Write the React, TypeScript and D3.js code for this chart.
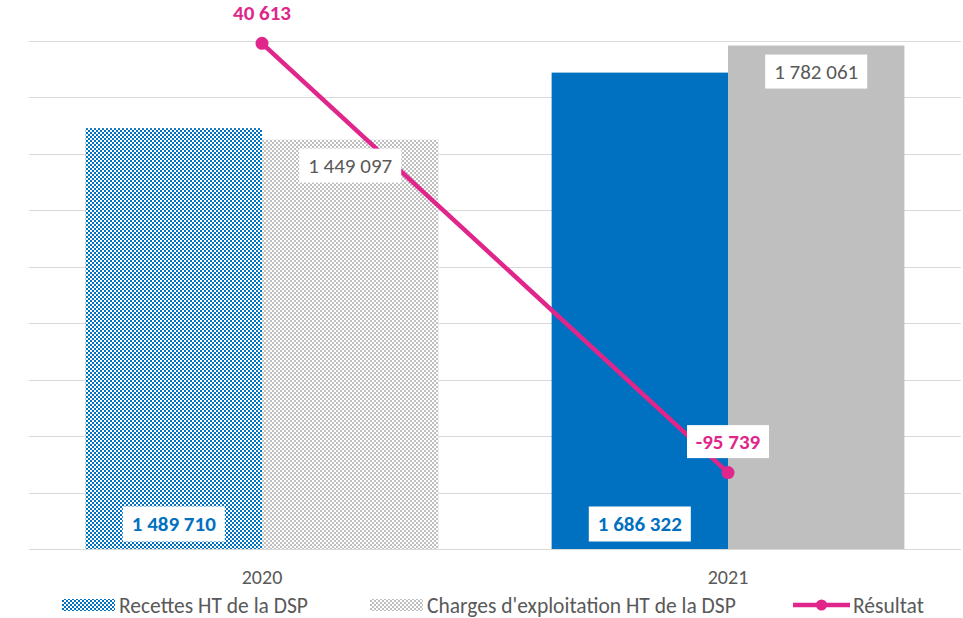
import * as d3 from 'd3';

const years = ['2020', '2021'];
const recettes = [1489710, 1686322];
const charges = [1449097, 1782061];
const resultat = [40613, -95739];
const seriesNames = ['Recettes HT de la DSP', "Charges d'exploitation HT de la DSP", 'Résultat'];
const yTicks = [0, 200000, 400000, 600000, 800000, 1000000, 1200000, 1400000, 1600000, 1800000];

const W = 963;
const H = 618;
const BLUE = '#0070C0';
const GRAY = '#BFBFBF';
const PINK = '#E0268A';
const TXT = '#595959';
const FONT = 'Carlito, Lato, sans-serif';

const fmt = (v: number) => d3.format(',')(v).replace(/,/g, ' ').replace('−', '-');

export default function App() {
  const x = d3.scaleBand<string>().domain(years).range([29, 961]).paddingInner(0.243).paddingOuter(0.1215);
  const xSub = d3.scaleBand<string>().domain(['r', 'c']).range([0, x.bandwidth()]);
  const y = d3.scaleLinear().domain([0, 1800000]).range([549, 40.5]);
  const y2 = d3.scaleLinear().domain([-120000, 41500]).range([549, 40.5]);
  const cx = (yr: string) => (x(yr) as number) + x.bandwidth() / 2;

  const line = d3.line<number>()
    .x((_, i) => cx(years[i]))
    .y(d => y2(d));

  const labelBox = (xc: number, yc: number, w: number, h: number, text: string, color: string, bold: boolean, key: string, box = true) => (
    <g key={key}>
      {box && <rect x={xc - w / 2} y={yc - h / 2} width={w} height={h} fill="#fff" />}
      <text x={xc} y={yc} dy="0.35em" textAnchor="middle" fill={color} fontWeight={bold ? 700 : 400} fontSize={21} fontFamily={FONT}>{text}</text>
    </g>
  );

  return (
    <div>
      <style>{`body{margin:0}`}</style>
      <svg width={W} height={H} style={{ display: 'block', background: '#fff' }}>
        <defs>
          <pattern id="pBlue" width={4} height={4} patternUnits="userSpaceOnUse">
            <rect width={4} height={4} fill={BLUE} />
            <rect x={0} y={0} width={2} height={2} fill="#fff" />
            <rect x={2} y={2} width={2} height={2} fill="#fff" />
          </pattern>
          <pattern id="pGray" width={4} height={4} patternUnits="userSpaceOnUse">
            <rect width={4} height={4} fill={GRAY} />
            <rect x={0} y={0} width={2} height={2} fill="#fff" />
            <rect x={2} y={2} width={2} height={2} fill="#fff" />
          </pattern>
        </defs>

        {/* gridlines */}
        {yTicks.map(t => (
          <line key={t} x1={29} x2={961} y1={Math.round(y(t)) + 0.5} y2={Math.round(y(t)) + 0.5} stroke="#D9D9D9" strokeWidth={1} />
        ))}

        {/* bars */}
        {years.map((yr, i) => {
          const x0 = x(yr) as number;
          const xr = x0 + (xSub('r') as number);
          const xc = x0 + (xSub('c') as number);
          const bw = xSub.bandwidth();
          return (
            <g key={yr}>
              <rect x={xr} y={y(recettes[i])} width={bw} height={y(0) - y(recettes[i])} fill={i === 0 ? 'url(#pBlue)' : BLUE} />
              <rect x={xc} y={y(charges[i])} width={bw} height={y(0) - y(charges[i])} fill={i === 0 ? 'url(#pGray)' : GRAY} />
            </g>
          );
        })}

        {/* line */}
        <path d={line(resultat) as string} fill="none" stroke={PINK} strokeWidth={4.5} />
        {resultat.map((v, i) => (
          <circle key={i} cx={cx(years[i])} cy={y2(v)} r={6.5} fill={PINK} />
        ))}

        {/* labels */}
        {years.map((yr, i) => {
          const x0 = x(yr) as number;
          const bw = xSub.bandwidth();
          const xr = x0 + (xSub('r') as number) + bw / 2;
          const xc = x0 + (xSub('c') as number) + bw / 2;
          return (
            <g key={'l' + yr}>
              {labelBox(xr, y(0) - 25, 102, 35, fmt(recettes[i]), BLUE, true, 'r')}
              {labelBox(xc, y(charges[i]) + 26, 102, 34, fmt(charges[i]), TXT, false, 'c')}
              {labelBox(cx(yr), y2(resultat[i]) - 31, 82, 33, fmt(resultat[i]), PINK, true, 'p', i === 1)}
            </g>
          );
        })}

        {/* x axis labels */}
        {years.map(yr => (
          <text key={'x' + yr} x={cx(yr)} y={577} dy="0.35em" textAnchor="middle" fill={TXT} fontSize={20} fontFamily={FONT}>{yr}</text>
        ))}

        {/* legend */}
        <g fontFamily={FONT} fontSize={21.5} fill={TXT}>
          <rect x={62} y={599} width={53} height={12} fill="url(#pBlue)" />
          <text x={119} y={605} dy="0.35em">{seriesNames[0]}</text>
          <rect x={370} y={599} width={53} height={12} fill="url(#pGray)" />
          <text x={427} y={605} dy="0.35em">{seriesNames[1]}</text>
          <line x1={793} x2={850} y1={605} y2={605} stroke={PINK} strokeWidth={4.5} />
          <circle cx={821.5} cy={605} r={5.5} fill={PINK} />
          <text x={853} y={605} dy="0.35em">{seriesNames[2]}</text>
        </g>
      </svg>
    </div>
  );
}
